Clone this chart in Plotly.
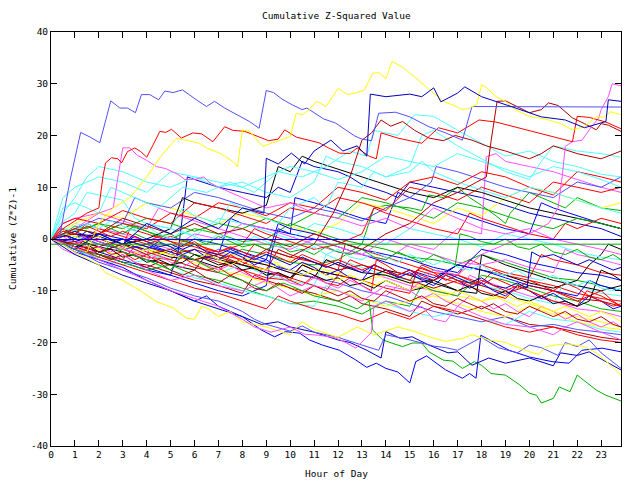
import plotly.graph_objects as go

# ---- colours (gnuplot style) ----
RED = '#ff0000'; GREEN = '#00b000'; BLUE = '#0000ff'; MAG = '#ff50ff'; CYAN = '#50ffff'
DRED = '#b00000'; YEL = '#ffff00'; BLK = '#000000'; NAVY = '#0000c0'; PERI = '#5050ff'

# ---- axis ticks ----
hour_ticks = list(range(0, 24))
y_ticks = [-40, -30, -20, -10, 0, 10, 20, 30, 40]

# ---- series: (hour, cumulative value) ----
peri_top = [(0,0),(0.3,-1),(0.8,11.4),(1.24,20.6),(1.63,19.7),(2.04,18.6),(2.5,26.7),(2.88,25.3),(3.2,25.3),(3.53,24.4),(3.78,27.9),(4.13,27.9),(4.5,26.9),(4.76,28.6),(5.1,28.3),(5.5,28.8),(6.14,26.7),(6.5,25.6),(6.84,26.6),(7.26,25.3),(7.9,23.7),(8.3,22.7),(8.7,21.4),(9.0,28.7),(9.3,28.3),(9.7,26.9),(10.1,25.9),(10.5,25),(10.7,25.3),(11.0,24.4),(11.4,23.2),(11.9,22.4),(12.3,21.1),(12.7,19.9),(13.0,19.3),(13.4,19),(13.7,24.3),(14.4,24.5),(15.0,23.6),(15.3,22.9),(15.8,21.7),(16.5,20.5),(17.2,19.1),(17.6,25.6),(23.83,25.5)]
yel_top = [(0,0),(0.7,-1.5),(1.5,-2.5),(2,3),(2.6,6),(3.3,8),(4,12),(4.6,16),(5.25,19.5),(5.7,19),(6.2,18.5),(6.5,17.6),(7.1,16.5),(7.6,15),(7.8,14),(8.0,21.1),(8.3,20.8),(8.85,17.9),(9.4,18.8),(10.0,19.8),(10.25,24.3),(10.5,24),(10.8,25),(11.1,26.6),(11.5,25.6),(12.0,29.1),(12.4,27.9),(12.8,28.3),(13.1,28.8),(13.45,32),(13.7,32.2),(14.0,31),(14.26,34.3),(14.7,33.2),(15.26,31.1),(15.8,29),(16.4,26.6),(16.8,25.9),(17.2,25),(17.5,25.3),(17.8,26),(18.0,29.8),(18.2,29.3),(18.6,27.5),(19.0,26.6),(19.4,25),(20.0,23.7),(20.4,23.4),(20.8,23),(21.3,22.3),(21.8,21.1),(22.3,21.7),(22.8,23.7),(23.1,23.5),(23.4,24.6),(23.83,24)]
navy_top = [(0,0),(1,-2),(2,1),(3,-1),(4,3),(5,1),(6,4),(7,2),(8,6),(8.9,5),(9.0,15.6),(9.5,14.5),(10.05,16.6),(10.6,14.5),(11,17),(11.7,19.1),(12.2,17),(12.8,18),(13.2,16),(13.35,28),(14,27.5),(15,28),(15.5,27.5),(16,29.2),(16.3,26.5),(17,28.2),(17.3,29.4),(18,27.5),(19.3,25.5),(20.5,23.6),(21.5,23),(22.3,21.5),(23.2,22.7),(23.3,26.9),(23.83,26.6)]
red_top = [(0,0),(0.5,2),(1,3.5),(1.5,5),(2.0,6),(2.17,12),(2.28,14.7),(2.53,15.7),(2.8,15.5),(2.95,14.7),(3.2,16.9),(3.5,17.6),(3.75,16.9),(4.0,15.8),(4.27,18.2),(4.55,20.8),(4.8,20.6),(5.04,21.2),(5.45,19.5),(5.93,20.5),(6.3,20.3),(6.77,18.8),(7.26,21.7),(7.6,21),(8.1,20.8),(8.7,19.8),(9.1,19),(9.5,19.3),(9.77,21.1),(10.25,19.7),(10.8,19.1),(11.2,18.6),(11.6,17.6),(12.06,16.6),(12.5,16.5),(12.8,17.6),(13.3,16),(13.6,15.5),(13.8,20.5),(14.5,19.5),(15.5,18.5),(16.2,21.5),(17,20.5),(17.9,23),(18.6,22.6),(19.5,21.5),(20.4,20.5),(21.2,19.5),(21.8,18.8),(22.0,23.7),(22.5,23.5),(23.2,22.6),(23.83,21.3)]
dred_a = [(0,0),(1,-1),(2,-2.5),(3,-1),(4,-3),(5,-2),(6,-4),(7,-3),(8,-5),(9,-2),(10,-3.5),(11,-1),(11.8,5),(12.3,10),(12.5,12),(13.0,19.1),(13.4,20.5),(13.8,23),(14.2,21.8),(14.7,22.7),(15.2,21),(15.8,19.5),(16.4,19),(16.9,20),(17.6,19.1),(18.2,18),(19,17),(20,15.5),(20.5,16.5),(21,18),(22,16.5),(23,15.5),(23.83,17)]
dred_b = [(0,0),(1,2),(2,1),(3,4),(4,2.5),(5,1),(6,3),(7,1),(8,2),(9,0),(10,-1.5),(11,1),(12,-0.5),(13,-2),(14,1),(15,3),(16,7),(17,9),(17.8,11),(18.2,12),(18.4,19),(18.65,26.6),(19.0,26.7),(19.5,25.5),(20.0,24.4),(20.5,25),(20.8,26.3),(21.2,25.8),(21.8,23.4),(22.3,22.3),(22.8,21.1),(23.0,22.3),(23.3,22),(23.83,20.8)]
mag_end = [(0,0),(0.5,-2),(1,-3),(1.5,-1),(2,-4),(2.5,-5),(3,-3),(4,-6),(5,-8),(6,-7),(7,-9),(8,-10),(9,-8),(10,-11),(11,-9),(12,-10),(13,-12),(14,-9),(15,-10),(16,-6),(17,-7),(18,-3),(19,-1),(20,1),(20.8,3),(21.2,6),(21.37,12),(21.5,17.9),(21.8,18.8),(22.2,19.1),(22.6,21.7),(22.9,23.4),(23.0,25),(23.3,27.5),(23.46,30),(23.83,29.6)]
cyan_a = [(0,0),(0.5,6),(1,7),(2,5),(2.5,10),(3.5,8),(4.5,6),(5.5,10),(6.5,9),(7.5,11),(8.5,9),(9.5,13),(10.5,12),(11.5,14),(12.5,17),(13.2,16),(13.5,21),(14.5,20),(15.2,24),(16,23.7),(17,21),(18,18.5),(19,16),(20,17),(21,15),(22,14),(23,12.5),(23.83,12)]
cyan_b = [(0,0),(0.4,3),(1,5),(1.5,9),(2,8.5),(3,7.5),(3.5,4),(4,3),(5,2),(5.5,6),(6,4.5),(7,3),(7.5,7),(8,6),(9,4),(9.5,3),(10,6),(11,8),(11.5,6),(12,11),(13,10),(13.5,13),(14,12),(15,14),(15.5,20),(16,21),(17,18),(18,15.5),(19,13),(20,11.5),(20.5,15),(21,18),(22,17),(23,16.5),(23.83,15.8)]
cyan_c = [(0,0),(0.5,8),(1,10),(2,12),(3,11),(4,9),(5,13),(6,12),(7,10),(8,11),(9,9),(10,8),(11,11),(11.5,16),(12,15),(13,14),(14,12),(15,13),(15.5,15),(16,13),(17,11),(18,9.5),(19,8),(20,10),(21,9),(22,7.5),(23,6),(23.83,5)]
mag_left = [(0,0),(1,2),(2,5),(2.6,6),(2.8,12),(3.0,17.6),(3.3,17.6),(3.6,16.2),(4.0,15.2),(4.4,14),(4.8,13.6),(5.3,12.5),(5.6,11.5),(6,11.5),(6.4,12),(6.6,11),(7,10),(8,8),(9,6),(10,7),(11,5),(12,4),(13,2.5),(14,4),(15,2),(16,6),(17,4),(18,2),(19,1),(20,2),(21,0),(22,-1),(23,-2),(23.83,-3)]

blue_low = [(0,0),(0.5,-1),(1,-2.5),(2,-4),(3,-5.5),(4,-8),(5,-10),(6,-12),(6.5,-11),(7,-13),(8,-15),(8.8,-17.6),(9.35,-18.9),(9.8,-17.9),(10.4,-18.2),(10.8,-19.5),(11.35,-20.5),(12.06,-21.5),(12.75,-23.4),(13.2,-24.8),(13.6,-24),(14.0,-25),(14.5,-25.7),(15.0,-27.8),(15.25,-23.7),(15.7,-22.6),(16.5,-25.3),(17.2,-26.9),(17.5,-26),(17.77,-26.9),(17.97,-18.6),(18.5,-19.9),(19.15,-21.5),(20,-22.8),(20.95,-23.7),(21.66,-24),(22.2,-21.5),(22.6,-21.3),(23.04,-21.1),(23.83,-21.8)]
green_low = [(0,0),(1,-2),(2,-3.5),(2.5,-1),(3,-2.5),(4,-4),(5,-6),(5.5,-3),(6,-4),(7,-6.5),(8,-8),(9,-10),(9.7,-8.5),(10,-9),(11,-11),(12,-12),(12.8,-13.5),(13.3,-12),(13.45,-17.6),(13.87,-19.5),(14.3,-20.2),(14.7,-20.8),(15.1,-20.1),(15.5,-20.1),(15.8,-21.8),(16.4,-23.4),(16.8,-23.6),(17.2,-25),(17.7,-23.7),(18.0,-24.4),(18.4,-26),(19.0,-26.3),(19.6,-28.2),(20.0,-29.8),(20.3,-30.2),(20.5,-31.7),(21.0,-30.8),(21.25,-28.6),(21.7,-29.5),(22.0,-26.3),(22.8,-29.2),(23.2,-30.2),(23.83,-31.3)]
navy_low = [(0,0),(1,-3),(2,-5),(3,-7),(4,-8.5),(5,-10),(6,-12),(7,-13.5),(8,-15),(8.8,-16.5),(9.5,-16),(10,-17),(11,-18),(12,-19.5),(12.5,-20),(13.2,-21.5),(13.8,-23),(14.0,-17.9),(14.6,-19.2),(15.1,-18.9),(15.8,-20.5),(16.6,-22),(17.0,-21.8),(17.6,-24.4),(18.3,-23),(19,-24),(20,-23),(21,-24.5),(21.3,-22),(22,-22.5),(22.5,-21.8),(23,-23.2),(23.83,-25.3)]
peri_low = [(0,0),(1,-2),(2,-4.5),(3,-6),(4,-7.5),(5,-9.5),(6,-11),(7,-12),(8,-14),(8.5,-15.5),(9,-16.5),(10,-17.8),(10.5,-16.8),(11,-18),(12,-19),(13,-20.5),(13.7,-21.5),(14,-18.5),(15,-19.5),(16,-20.7),(16.5,-21),(17,-21.5),(18,-19),(18.7,-21),(19.5,-22),(20,-20.5),(20.5,-21),(21.2,-22.5),(21.5,-20),(22,-20.8),(22.5,-19.5),(23,-22),(23.83,-25)]
yel_low = [(0,0),(0.5,-1),(1,-2.5),(2,-5),(2.3,-6.6),(3,-8),(3.7,-9.9),(4.4,-12.1),(5.1,-13.3),(5.66,-15.3),(6.0,-15.5),(6.3,-13),(6.6,-13.5),(7,-15),(7.5,-14),(8,-16),(9,-17),(10,-18.5),(10.5,-16),(11,-17.5),(12,-19),(12.8,-17),(13.5,-18.5),(14.5,-17),(15.3,-18),(15.8,-18.9),(16.5,-19.8),(17.2,-19.2),(17.6,-18.5),(18.3,-19.5),(19,-20),(20,-21.8),(20.4,-22.3),(20.7,-20.8),(21.2,-20.4),(21.7,-20.3),(22.3,-20.8),(22.8,-22),(23.3,-24),(23.83,-26.3)]
mag_low = [(0,0),(1,-1.5),(2,-4),(3,-6),(3.5,-7),(4,-8),(5,-10),(6,-11.5),(7,-13),(8,-15.5),(8.5,-17),(9.2,-18),(10,-17),(10.6,-18.4),(11.2,-18.6),(11.8,-19),(12.2,-19.7),(12.75,-21.1),(13.1,-19.5),(13.4,-18),(13.5,-13),(14,-12),(15,-14),(15.5,-13),(16,-15.5),(16.5,-16),(17,-13),(18,-15),(19,-16.5),(20,-17),(21,-18.5),(21.5,-17),(22,-16),(23,-18),(23.83,-19.5)]

m01 = [(0,0),(0.5,-1),(1,-2),(1.5,0.5),(2,-0.5),(3,-2),(4,-3.5),(5,-4),(5.5,-2),(6,-3),(7,-4.5),(8,-6),(9,-7.5),(10,-8),(10.5,-5),(11,-6),(12,-7),(12.5,-4),(13,-5),(14,-6.5),(15,-8),(15.5,-5),(16,-6),(17,-7),(18,-8.5),(18.5,-6),(19,-7),(20,-8),(21,-9),(22,-10.5),(23,-11.5),(23.83,-12)]
m02 = [(0,0),(0.4,2),(1,1),(2,0),(3,-1.5),(3.3,2),(4,1),(5,-0.5),(6,-1.5),(7,-3),(8,-4),(8.5,-1),(9,-2),(10,-3.5),(11,-4.5),(12,-6),(12.3,-1),(13,-2),(14,-3.5),(15,-5),(16,-6.5),(17,-7),(17.5,-4),(18,-5),(19,-6.5),(20,-7.5),(20.5,-3),(21,-4),(22,-5),(23,-6.5),(23.83,-7)]
m03 = [(0,0),(1,-1.5),(2,-3),(3,-4),(3.5,-1.5),(4,-2.5),(5,-4),(6,-5.5),(7,-6.5),(7.5,-3),(8,-4.5),(9,-6),(10,-7.5),(11,-9),(11.5,-10),(12,-7),(13,-8),(14,-9.5),(15,-10.5),(15.3,-6),(16,-7),(17,-8.5),(18,-10),(19,-11.5),(19.5,-9),(20,-10),(21,-12),(22,-13),(22.4,-10),(23,-11),(23.83,-13)]
m04 = [(0,0),(1,1),(1.5,3),(2,2),(3,0.5),(4,-1),(5,0.5),(6,-1),(7,-2.5),(8,-1),(8.5,2),(9,1),(10,-0.5),(11,-2),(12,-1),(13,1),(13.5,6),(14,5),(15,3.5),(16,2),(17,1),(17.5,5),(18,4),(19,2.5),(20,1),(21,0),(21.5,3),(22,2),(23,4),(23.83,3)]
m05 = [(0,0),(0.5,3),(1,4),(2,3),(3,5.5),(4,4),(5,3),(6,7),(7,6),(8,4.5),(9,3),(10,6),(11,5),(12,8),(13,7),(14,5.5),(15,10),(16,9),(17,7.5),(18,10),(19,8.5),(20,7),(21,11),(22,10),(23,9),(23.83,10)]
m06 = [(0,0),(0.5,-0.5),(1,0.5),(2,-1),(3,-2),(3.5,1),(4,0),(5,-1.5),(6,-3),(7,-4),(8,-2),(9,-3),(10,-4.5),(11,-5),(12,-4),(13,-1),(14,-2),(15,-3.5),(16,-4),(17,-5),(18,-3),(19,-4.5),(20,-6),(21,-7.5),(22,-8),(23,-9),(23.83,-10)]
m07 = [(0,0),(1,2),(2,1),(3,3),(4,1.5),(5,0),(6,2),(7,1),(8,-0.5),(9,0),(10,3),(11,1.5),(12,0),(13,-1),(13.5,6),(14,6.5),(15,6),(15.5,5.5),(15.8,8.5),(16.4,8),(17,10),(17.5,8),(18,6.5),(18.6,4.5),(19,3),(19.2,5),(20,9),(20.5,8),(21,7),(21.5,6),(22,8),(22.5,7),(23,6),(23.83,5.5)]
m08 = [(0,0),(1,-2),(2,-3),(3,-4.5),(4,-6),(5,-5),(6,-7),(7,-8),(8,-9.5),(9,-11),(10,-12.5),(11,-12),(12,-13),(13,-14.5),(14,-12),(15,-13),(15.5,-9),(16,-10),(17,-11),(18,-7),(19,-8),(20,-9.5),(21,-11),(22,-12),(23,-13.5),(23.83,-14)]
m09 = [(0,0),(0.5,2),(1,1),(2,-0.5),(3,-2),(4,-1),(5,-2.5),(6,-4),(7,-3),(7.5,4),(8,3),(9,2),(10,1),(10.2,8),(11,7),(12,5.5),(13,4),(14,3),(14.5,9),(15,8),(16,6.5),(17,5),(18,3.5),(19,2),(20,1),(20.5,7),(21,6),(22,4.5),(23,3),(23.83,2)]
m10 = [(0,0),(1,-1),(2,-2.5),(3,-4),(4,-5.5),(5,-7),(5.3,-3),(5.5,5),(5.7,12),(6,11.5),(7,10),(8,9),(9,8),(9.5,10),(10,9),(10.5,15),(11,14),(12,13),(12.5,12),(13,10.5),(14,9),(14.5,8),(15,11),(16,10),(17,9),(18,8),(19,6.5),(20,5),(21,4),(22,3),(23,2),(23.83,0.5)]
m11 = [(0,0),(1,-1.5),(2,-3),(3,-4.5),(4,-6),(5,-7),(6,-8.5),(7,-10),(8,-11),(9,-9),(9.2,-3),(9.5,2),(10,1),(11,0),(12,-1.5),(13,-3),(14,-4.5),(15,-6),(16,-7.5),(17,-5),(18,-6),(19,-7.5),(20,-9),(21,-10),(22,-11),(22.5,-8),(23,-9),(23.83,-10)]
m12 = [(0,0),(1,1),(2,-0.5),(3,-2),(4,-3),(4.5,1),(5,0),(6,-1),(7,-2.5),(8,-4),(9,-5),(10,-6.5),(11,-7.5),(11.5,-4),(12,-5),(13,-6),(14,-7.5),(15,-9),(16,-10),(17,-11),(17.5,-7),(18,-8),(19,-9.5),(20,-11),(21,-12),(22,-13.5),(23,-14),(23.83,-15)]
m13 = [(0,0),(0.5,3),(1,4),(2,5),(3,3.5),(4,2),(4.5,6),(5,5),(6,3.5),(7,2),(8,0.5),(9,-1),(10,-2),(11,0),(12,-1.5),(13,-3),(14,-4),(15,-1),(16,-2),(17,2),(18,1),(18.2,15.9),(18.6,16.5),(19,15),(20,14),(21,13),(22,11.5),(23,10),(23.83,9)]
m14 = [(0,0),(1,-1),(2,-2.5),(3,-1),(4,-3),(5,-4),(6,-5.5),(7,-6.5),(8,-5),(9,-7),(10,-8),(11,-9),(11.5,-3),(12,-4),(13,-5.5),(14,-7),(15,-8),(16,-6),(17,-7.5),(18,-9),(19,-10),(20,-11.5),(21,-12.5),(21.5,-8),(22,-9),(23,-10.5),(23.83,-11)]
m15 = [(0,0),(1,3),(2,2),(3,1),(4,3),(5,2),(6,0.5),(7,4),(8,3),(9,1.5),(10,0),(11,3),(12,2),(13,0.5),(14,-1),(15,2),(16,1),(17,0),(18,-1.5),(19,1),(20,0),(21,-1),(22,-2.5),(23,-3.5),(23.83,-4)]
m16 = [(0,0),(1,-2),(2,-3),(3,-4.5),(4,-5),(5,-6.5),(6,-8),(7,-9),(8,-10.5),(8.5,-7),(9,-8),(10,-9.5),(11,-10.5),(12,-12),(12.5,-11),(13,-12.5),(14,-13.5),(15,-15),(15.5,-12),(16,-13),(17,-14.5),(18,-13),(19,-15),(20,-16.5),(21,-17),(22,-18),(23,-19),(23.83,-19.5)]
m17 = [(0,0),(0.5,1),(1,-0.5),(2,-1.5),(3,0),(4,-1.5),(5,-3),(6,-2),(7,-3.5),(8,-5),(9,-6),(9.5,-2),(10,-3),(11,-4.5),(12,-6),(13,-5),(14,-6.5),(15,-8),(16,-9.5),(17,-8),(18,-9),(19,-10.5),(20,-9),(21,-10),(22,-11.5),(23,-12),(23.83,-13)]
m18 = [(0,0),(1,-1),(2,-2.5),(3,-1),(4,-2),(5,-3.5),(6,-4),(7,-5.5),(8,-4),(9,-5),(10,-6.5),(11,-7.5),(11.5,-4),(12,-5),(13,-6.5),(14,-7),(15,-8.5),(16,-8),(17,-5),(18,-6),(19,-7),(20,-8.5),(21,-9.5),(22,-8),(22.5,-5),(23,-3),(23.3,-1),(23.83,-2)]
m19 = [(0,0),(0.5,1),(1,0),(2,-1.5),(3,-2.5),(4,-4),(5,-5),(6,-6),(6.5,-3),(7,-4),(8,-5),(9,-6.5),(10,-7.5),(10.5,-5),(11,-6),(12,-7),(13,-8),(14,-6),(15,-7),(16,-8.5),(17,-10),(17.8,-10.5),(18,-3),(18.5,-4),(19,-5),(20,-6.5),(21,-8),(22,-9),(23,-10),(23.83,-9)]
m20 = [(0,0),(1,1),(2,0.5),(3,-1),(4,0),(5,2),(5.5,8),(6,7),(7,6),(8,5),(9,6.5),(9.5,14),(10,13),(10.5,16),(11,15),(12,13.5),(13,12),(14,10.5),(15,9),(16,8),(17,10),(18,9),(19,7.5),(20,6),(21,5),(22,4),(23,3),(23.83,2)]
m21 = [(0,0),(1,2),(2,1),(3,0),(4,-1.5),(5,0),(6,-1),(7,-2.5),(8,-3.5),(9,-5),(10,-4),(11,-5.5),(12,-6.5),(13,-8),(14,-7),(15,-8.5),(16,-9.5),(17,-11),(18,-12),(19,-11),(20,-12.5),(21,-14),(22,-15),(23,-16),(23.83,-17)]
m22 = [(0,0),(1,3),(2,5),(3,4),(4,7),(5,6),(6,4.5),(7,3),(8,5),(9,4),(10,2.5),(11,1),(12,3),(13,7),(14,6),(15,4.5),(16,3),(17,6),(18,4.5),(19,8),(20,10),(21,9),(22,7.5),(23,6),(23.83,7)]
m23 = [(0,0),(1,1),(2,-1),(3,-2),(4,-1),(5,-3),(6,-4),(7,-2),(8,-3),(9,-4.5),(10,-6),(11,-7.5),(12,-8.5),(13,-10),(14,-11),(15,-12.5),(16,-14),(17,-15),(18,-16),(19,-15),(20,-17),(21,-16.5),(22,-17.5),(23,-18),(23.83,-18.5)]
m24 = [(0,0),(1,2),(2,4),(3,3),(3.5,8),(4,7),(5,6),(6,9),(7,8),(8,6.5),(9,5),(10,4),(11,6),(12,5),(13,3.5),(14,6),(15,8),(15.9,11),(16.1,14),(17,13),(18,11.5),(19,10),(20,9),(21,8),(22,11),(23,10),(23.83,12)]
m25 = [(0,0),(1,-0.5),(2,1),(3,0),(4,-1.5),(5,-2.5),(6,0),(7,-1),(8,-2.5),(9,-4),(9.5,3),(10,2),(11,1),(12,-0.5),(13,-2),(14,-3),(15,-4),(16,-5.5),(17,-6.5),(18,-2),(19,-3),(20,-4.5),(21,-5.5),(22,-6.5),(23,-7),(23.83,-8)]
m26 = [(0,0),(1,-2),(2,-4),(3,-5),(4,-4),(5,-6),(6,-7.5),(7,-8.5),(8,-10),(9,-11),(10,-12.5),(11,-13),(11.5,-9),(12,-10),(13,-11.5),(14,-12.5),(15,-14),(16,-15),(17,-14),(18,-15.5),(19,-16.5),(20,-14),(21,-15.5),(22,-16),(23,-17.5),(23.83,-18)]
m27 = [(0,0),(1,-1.5),(2,-3.5),(3,-5),(4,-6.5),(5,-8),(6,-9.5),(7,-10.5),(8,-12),(9,-13.5),(9.5,-11),(10,-12),(11,-13.5),(12,-14.5),(13,-16),(14,-14),(15,-15.5),(16,-13),(17,-14),(18,-15.5),(19,-17),(20,-18),(21,-17),(22,-18.5),(23,-19.5),(23.83,-20)]
m28 = [(0,0),(1,1.5),(2,3),(3,2),(4,4),(5,3),(6,1.5),(7,3),(8,2),(9,4),(10,2.5),(11,5),(12,4),(13,8),(14,7),(15,5.5),(16,4),(17,7),(18,6),(19,4.5),(20,3),(21,2),(22,4),(23,3),(23.83,2)]
m29 = [(0,0),(1,-1),(2,1),(3,3),(4,2),(5,5),(6,4),(7,7),(8,6),(9,4.5),(10,7),(11,6),(12,10),(13,9),(14,7.5),(15,11),(16,12),(17,10.5),(18,13),(19,12),(20,10),(21,8.5),(22,13),(23,12),(23.83,11)]
m30 = [(0,0),(0.5,5),(1,8),(1.5,12),(2,14),(3,13),(4,11),(5,10),(6,12),(7,11),(8,10),(9,12),(10,14),(11,13),(12,11.5),(13,13),(14,16),(15,15),(16,14),(17,16.5),(18,15),(19,13.5),(20,12),(21,14),(22,13),(23,11.5),(23.83,10)]
m31 = [(0,0),(1,-1),(2,2),(3,1),(4,-0.5),(5,-2),(6,1),(7,0),(8,3),(9,2),(10,0.5),(11,-1),(12,-2.5),(13,-3),(14,0),(15,-1.5),(16,-3),(17,-4.5),(18,-5),(19,-4),(20,-5.5),(21,-6.5),(21.5,-2),(22,-3),(23,-4),(23.83,-5)]
m32 = [(0,0),(1,-1),(2,-2),(3,-3.5),(4,-2),(5,-3),(6,-4.5),(7,-6),(8,-7),(9,-8.5),(10,-9.5),(11,-11),(12,-10),(13,-11.5),(14,-13),(15,-12),(16,-11),(17,-12.5),(18,-14),(19,-15),(20,-13),(21,-14.5),(22,-16),(23,-17),(23.83,-17.5)]
m33 = [(0,0),(0.5,-1),(1,-0.5),(1.5,-2),(2,-1.5),(2.5,-3),(3,-2.5),(3.5,-4),(4,-3),(4.5,-4.5),(5,-5),(5.5,-3.5),(6,-5),(6.5,-6),(7,-5.5),(7.5,-7),(8,-6),(8.5,-7.5),(9,-8),(9.5,-6.5),(10,-8),(10.5,-9),(11,-7),(11.5,-8.5),(12,-9),(12.5,-7.5),(13,-9),(13.4,-10),(13.6,-4),(14,-5),(14.5,-6.5),(15,-7),(15.5,-5.5),(16,-6.5),(16.5,-8),(17,-7),(17.5,-8),(18,-9),(18.5,-7.5),(19,-8.5),(19.5,-9.5),(20,-8),(20.5,-9),(21,-10),(21.5,-8.5),(22,-9.5),(22.5,-11),(23,-10),(23.5,-12),(23.83,-13)]
m34 = [(0,0),(0.5,1),(1,0),(1.5,1.5),(2,0.5),(2.5,-1),(3,0),(3.5,-1.5),(4,-2),(4.5,-0.5),(5,-1.5),(5.5,-3),(6,-2),(6.5,-3.5),(7,-4),(7.5,-2.5),(8,-3.5),(8.5,-5),(9,-4),(9.5,-5.5),(10,-6),(10.5,-4.5),(11,-5.5),(11.5,-7),(12,-6),(12.5,-7.5),(13,-8),(13.5,-5),(14,-6),(14.5,-7.5),(15,-6.5),(15.5,-8),(16,-9),(16.5,-7),(17,-8),(17.5,-9.5),(18,-8.5),(18.5,-10),(19,-11),(19.5,-9),(20,-10),(20.5,-11.5),(21,-10.5),(21.5,-12),(22,-13),(22.5,-11),(23,-12),(23.5,-13.5),(23.83,-13)]
m35 = [(0,0),(0.5,-0.5),(1,-1.5),(1.5,-1),(2,-2.5),(2.5,-2),(3,-3.5),(3.5,-3),(4,-4.5),(4.5,-4),(5,-5),(5.5,-4.5),(6,-3),(6.5,-4),(7,-5),(7.5,-4.5),(8,-6),(8.5,-5.5),(9,-7),(9.5,-6.5),(10,-7.5),(10.5,-6),(11,-7),(11.5,-8),(12,-7.5),(12.5,-9),(13,-8.5),(13.5,-9.5),(14,-8),(14.5,-9),(15,-10),(15.5,-9.5),(16,-8),(16.5,-9),(17,-10),(17.5,-9),(18,-10.5),(18.5,-11),(19,-10),(19.5,-11.5),(20,-12),(20.5,-11),(21,-12.5),(21.5,-12),(22,-13),(22.5,-12),(23,-6),(23.5,-7),(23.83,-8)]
m36 = [(0,0),(0.5,1),(1,2.5),(1.5,2),(2,3),(2.5,2),(3,1),(3.5,2.5),(4,1.5),(4.5,0.5),(5,1),(5.5,-0.5),(6,0),(6.5,-1),(7,0.5),(7.5,-0.5),(8,-1.5),(8.5,-1),(9,-2),(9.5,-1),(10,-2.5),(10.5,-2),(11,-3),(11.5,-1.5),(12,-2.5),(12.5,-3),(13,-2),(13.5,-3.5),(14,-4),(14.5,-2.5),(15,-3.5),(15.5,-4.5),(16,-3),(16.5,-4),(16.9,-5),(17.1,1),(17.5,0.5),(18,-0.5),(18.5,-1),(19,0),(19.5,-1.5),(20,-2),(20.5,-1),(21,-2.5),(21.5,-3),(22,-2),(22.5,-3.5),(23,-4),(23.5,-3),(23.83,-4)]
m37 = [(0,0),(0.5,0.5),(1,-1),(1.5,0),(2,-1.5),(2.5,-2.5),(3,-1.5),(3.5,-3),(4,-4),(4.5,-3),(5,-4.5),(5.5,-5.5),(6,-4),(6.5,-5),(7,-6),(7.5,-5),(8,-6.5),(8.5,-7.5),(9,-6),(9.5,-7),(10,-8.5),(10.5,-9),(11,-7.5),(11.5,-8.5),(12,-9.5),(12.5,-8),(13,-9),(13.5,-10.5),(14,-11),(14.5,-9),(15,-10),(15.5,-11.5),(16,-10.5),(16.5,-12),(17,-13),(17.5,-11),(18,-12),(18.5,-13.5),(19,-12.5),(19.5,-14),(20,-15),(20.5,-13),(21,-14),(21.5,-15.5),(22,-14.5),(22.5,-16),(23,-17),(23.5,-16),(23.83,-17)]
m38 = [(0,0),(0.5,2),(1,1.5),(1.5,3),(2,2),(2.5,3.5),(3,2.5),(3.5,1.5),(4,2.5),(4.5,1),(5,0),(5.5,1.5),(6,0.5),(6.5,-0.5),(7,1),(7.5,0),(8,-1),(8.5,0.5),(9,-0.5),(9.5,-1.5),(10,-1),(10.5,-2.5),(11,-1.5),(11.5,-3),(12,-2),(12.5,-3.5),(13,-4),(13.5,-2.5),(14,-3.5),(14.5,-4.5),(15,-3),(15.5,-4),(16,-5),(16.5,-4),(17,-5.5),(17.5,-6),(18,-5),(18.5,-6.5),(19,-7),(19.5,-6),(20,-7.5),(20.5,-8),(21,-7),(21.5,-8.5),(22,-9),(22.5,-8),(23,-9.5),(23.5,-10),(23.83,-9.5)]
m39 = [(0,0),(0.5,-1),(1,-2),(1.5,-1.5),(2,-3),(2.5,-4),(3,-3),(3.5,-4.5),(4,-5.5),(4.5,-4.5),(5,-6),(5.5,-7),(6,-6),(6.5,-7.5),(7,-8.5),(7.5,-7),(8,-8),(8.5,-9.5),(9,-10),(9.5,-8.5),(10,-9.5),(10.5,-10.5),(11,-9),(11.5,-10),(12,-11),(12.5,-10),(13,-11.5),(13.5,-12),(14,-10),(14.5,-11),(15,-12),(15.5,-11),(16,-12.5),(16.5,-13),(17,-11.5),(17.5,-12.5),(18,-13.5),(18.5,-12.5),(19,-14),(19.5,-14.5),(20,-13),(20.5,-14),(21,-15),(21.5,-14),(22,-15.5),(22.5,-16),(23,-15),(23.5,-16.5),(23.83,-17)]
m40 = [(0,0),(0.5,0.5),(1,1.5),(1.5,0.5),(2,1),(2.5,0),(3,-1),(3.5,0.5),(4,-0.5),(4.5,-1.5),(5,-1),(5.5,-2),(6,-1),(6.5,-2.5),(7,-3),(7.5,-2),(8,-3),(8.5,-4),(9,-3),(9.5,-4),(10,-5),(10.5,-3.5),(11,-4.5),(11.5,-5.5),(12,-4.5),(12.5,-5.5),(13,-6.5),(13.5,-5),(14,-6),(14.5,-7),(15,-6),(15.5,-7.5),(16,-8),(16.5,-6.5),(17,-7.5),(17.5,-8.5),(18,-7.5),(18.5,-9),(19,-9.5),(19.5,-8.5),(19.9,-9.5),(20.1,-2.5),(20.5,-3.5),(21,-3),(21.5,-4),(22,-5),(22.5,-4),(23,-5),(23.5,-6),(23.83,-5.5)]
m41 = [(0,0),(0.5,1),(1,0.5),(1.5,-0.5),(2,0.5),(2.5,-1),(3,-2),(3.5,-1),(4,-2),(4.5,-3),(5,-2),(5.5,-3),(6,-4),(6.5,-3),(7,-4),(7.5,-5),(8,-4),(8.5,-5.5),(9,-6),(9.5,-5),(10,-6),(10.5,-7),(11,-6),(11.5,-7),(12,-8),(12.5,-7),(13,-8),(13.5,-9),(14,-8),(14.5,-9),(15,-10),(15.5,-9),(16,-10.5),(16.5,-11),(17,-10),(17.5,-11),(18,-12),(18.5,-11),(19,-12),(19.5,-13),(20,-12),(20.5,-13),(21,-14),(21.5,-13),(22,-14),(22.5,-15),(23,-14),(23.5,-15),(23.83,-16)]
m42 = [(0,0),(0.5,1.5),(1,1),(1.5,2.5),(2,1.5),(2.5,0.5),(3,1.5),(3.5,0.5),(4,-0.5),(4.5,0.5),(5,-0.5),(5.5,-1.5),(6,-0.5),(6.5,-2),(7,-2.5),(7.5,-1.5),(8,-2.5),(8.5,-3.5),(9,-2.5),(9.5,-3.5),(10,-4.5),(10.5,-3),(11,-4),(11.5,-5),(12,-4),(12.5,-5),(13,-6),(13.5,-5),(14,-6),(14.5,-7),(15,-6),(15.5,-7),(16,-8),(16.5,-7),(17,-8),(17.5,-9),(18,-8),(18.5,-9),(19,-10),(19.5,-9),(20,-10),(20.5,-11),(21,-10),(21.5,-11),(22,-12),(22.5,-11),(23,-12),(23.5,-13),(23.83,-12.5)]
flat_blue = [(0,-0.1),(23.83,-0.1)]
flat_green = [(0,-1),(23.83,-1)]

series = [
    (m01, RED), (m06, GREEN), (m09, BLUE), (m12, MAG), (m14, CYAN), (m16, DRED), (m21, YEL), (m18, BLK),
    (m10, NAVY), (m23, PERI), (m02, RED), (m07, GREEN), (m11, BLUE), (m13, MAG), (m15, CYAN), (m17, DRED),
    (m22, YEL), (m19, BLK), (m24, PERI), (m03, RED), (m08, GREEN), (m25, BLUE), (m31, MAG), (m26, CYAN),
    (m32, YEL), (m20, BLK), (m04, RED), (m28, GREEN), (m27, RED), (m05, RED), (m29, RED), (m30, CYAN),
    (m33, RED), (m34, BLUE), (m35, BLK), (m36, GREEN), (m37, MAG), (m38, CYAN), (m39, DRED), (m40, NAVY),
    (m41, YEL), (m42, RED),
    (cyan_a, CYAN), (cyan_b, CYAN), (cyan_c, CYAN), (mag_left, MAG), (dred_a, DRED), (dred_b, DRED),
    (mag_end, MAG), (red_top, RED), (peri_top, PERI), (yel_top, YEL), (navy_top, NAVY),
    (blue_low, BLUE), (green_low, GREEN), (navy_low, NAVY), (peri_low, PERI), (yel_low, YEL), (mag_low, MAG),
    (flat_green, GREEN), (flat_blue, BLUE),
]

fig = go.Figure()
for pts, col in series:
    fig.add_trace(go.Scatter(
        x=[p[0] for p in pts], y=[p[1] for p in pts], mode='lines',
        line=dict(color=col, width=1), showlegend=False, hoverinfo='skip'))

FONT = dict(family='DejaVu Sans Mono', size=9.5, color='black')

# the page adds an 8px body margin, so the figure is sized/placed to compensate
fig.update_layout(
    width=632, height=472,
    margin=dict(l=43, r=19, t=24, b=34, pad=0),
    paper_bgcolor='white', plot_bgcolor='white',
    font=FONT,
    xaxis=dict(range=[0, 23.83], tickvals=hour_ticks, ticktext=[str(h) for h in hour_ticks],
               ticks='inside', ticklen=6, tickcolor='black', showline=True, linecolor='black',
               linewidth=1, mirror='ticks', showgrid=False, zeroline=False, tickfont=FONT),
    yaxis=dict(range=[-40, 40], tickvals=y_ticks, ticktext=[str(v) for v in y_ticks],
               ticks='inside', ticklen=6, tickcolor='black', showline=True, linecolor='black',
               linewidth=1, mirror='ticks', showgrid=False, zeroline=False, tickfont=FONT),
    annotations=[
        dict(text='Cumulative Z-Squared Value', xref='paper', yref='paper', x=0.5, y=1,
             yshift=17, showarrow=False, xanchor='center', yanchor='middle', font=FONT),
        dict(text='Hour of Day', xref='paper', yref='paper', x=0.5, y=0,
             yshift=-27, showarrow=False, xanchor='center', yanchor='middle', font=FONT),
        dict(text='Cumulative (Z*Z)-1', xref='paper', yref='paper', x=0, y=0.5,
             xshift=-39, showarrow=False, textangle=-90, xanchor='center', yanchor='middle', font=FONT),
    ],
)

fig.write_html('out.html')
